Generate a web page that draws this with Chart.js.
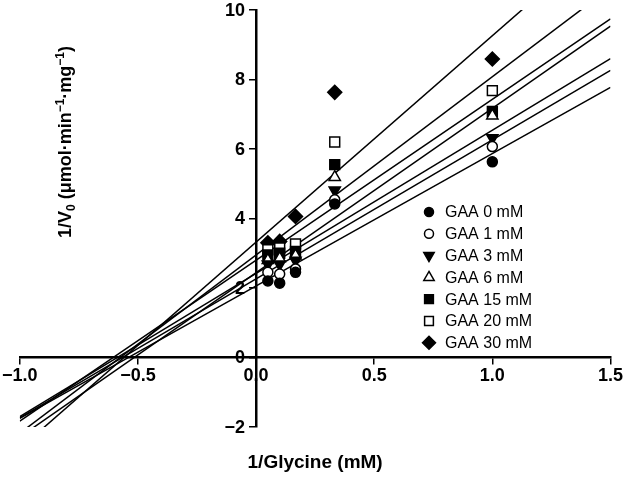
<!DOCTYPE html>
<html>
<head>
<meta charset="utf-8">
<script src="https://cdn.jsdelivr.net/npm/chart.js@4.4.1/dist/chart.umd.min.js"></script>
<style>
  html, body { margin: 0; padding: 0; background: #fff; }
  #wrap { width: 625px; height: 478px; }
</style>
</head>
<body>
<div id="wrap"><canvas id="myChart" width="625" height="478"></canvas></div>
<script>
'use strict';

//Data
var seriesNames = ['GAA 0 mM', 'GAA 1 mM', 'GAA 3 mM', 'GAA 6 mM', 'GAA 15 mM', 'GAA 20 mM', 'GAA 30 mM'];
var invGlycine = [0.05, 0.1, 0.167, 0.333, 1.0];
var gaa0 = [2.2, 2.14, 2.45, 4.42, 5.63];
var gaa1 = [2.45, 2.4, 2.55, 4.54, 6.07];
var gaa3 = [2.68, 2.68, 2.79, 4.81, 6.32];
var gaa6 = [2.8, 2.85, 2.93, 5.19, 6.96];
var gaa15 = [2.95, 3.0, 3.05, 5.55, 7.08];
var gaa20 = [3.1, 3.15, 3.27, 6.2, 7.68];
var gaa30 = [3.3, 3.34, 4.06, 7.63, 8.59];
var allSeries = [gaa0, gaa1, gaa3, gaa6, gaa15, gaa20, gaa30];

//fitted lines (intercept on 1/V0 axis, slope) - one per series
var fitIntercept = [2.06, 2.26, 2.42, 2.44, 2.80, 2.95, 3.32];
var fitSlope = [3.81, 4.00, 4.12, 4.73, 4.63, 5.13, 5.94];
var fitRange = [-1.0, 1.5];

//tick labels
var xTicks = [-1.0, -0.5, 0, 0.5, 1.0, 1.5];
var yTicks = [-2, 0, 2, 4, 6, 8, 10];
var xTitle = '1/Glycine (mM)';

//marker look for each series
var markerStyle = ['circle', 'circle', 'triangle', 'triangle', 'rect', 'rect', 'rectRot'];
var markerFilled = [true, false, true, false, true, false, true];
var markerRotation = [0, 0, 180, 0, 0, 0, 0];
var markerRadius = [5, 5, 6.5, 6.5, 7, 7, 7];
var legendRadius = [4.5, 4.5, 6, 6, 6.2, 6.2, 6.5];

var FONT = '"Liberation Sans", Arial, sans-serif';
Chart.defaults.font.family = FONT;
Chart.defaults.color = '#000';

function minusSign(text) {
  return String(text).replace('-', '\u2212');
}

//build datasets - points first so they sit on top of the lines
var datasets = [];
for (let i = 0; i < seriesNames.length; i++) {
  let pts = [];
  for (let j = 0; j < invGlycine.length; j++) {
    pts.push({ x: invGlycine[j], y: allSeries[i][j] });
  }
  datasets.push({
    label: seriesNames[i],
    data: pts,
    showLine: false,
    pointStyle: markerStyle[i],
    pointRotation: markerRotation[i],
    pointRadius: markerRadius[i],
    pointBackgroundColor: markerFilled[i] ? '#000' : '#fff',
    pointBorderColor: '#000',
    pointBorderWidth: 1.5,
    order: 0
  });
}
for (let i = 0; i < seriesNames.length; i++) {
  datasets.push({
    label: seriesNames[i] + ' fit',
    data: fitRange.map(function (x) { return { x: x, y: fitIntercept[i] + fitSlope[i] * x }; }),
    showLine: true,
    borderColor: '#000',
    borderWidth: 1.5,
    pointRadius: 0,
    fill: false,
    order: 1
  });
}

var tickFont = { family: FONT, size: 18, weight: 'bold' };

//y tick labels sit left of the centred y axis (drawn under the lines)
var yLabelPlugin = {
  id: 'yLabels',
  beforeDatasetsDraw: function (chart) {
    var ctx = chart.ctx;
    var xs = chart.scales.x;
    var ys = chart.scales.y;
    var xAxis = xs.getPixelForValue(0);
    ctx.save();
    ctx.fillStyle = '#000';
    ctx.font = 'bold ' + tickFont.size + 'px ' + FONT;
    ctx.textAlign = 'right';
    ctx.textBaseline = 'middle';
    yTicks.forEach(function (v) {
      ctx.fillText(minusSign(v), xAxis - 11, ys.getPixelForValue(v) + 1);
    });
    ctx.restore();
  }
};

//axis titles
var titlePlugin = {
  id: 'axisTitles',
  afterDraw: function (chart) {
    var ctx = chart.ctx;
    var area = chart.chartArea;
    ctx.save();
    ctx.fillStyle = '#000';
    ctx.font = 'bold 19px ' + FONT;
    ctx.textAlign = 'center';
    ctx.textBaseline = 'middle';
    ctx.fillText(xTitle, (area.left + area.right) / 2, area.bottom + 36);

    //y title with subscript / superscripts
    var parts = [
      { t: '1/V', k: 'n' }, { t: '0', k: 'sub' }, { t: ' (\u03bcmol\u00b7min', k: 'n' },
      { t: '\u22121', k: 'sup' }, { t: '\u00b7mg', k: 'n' }, { t: '\u22121', k: 'sup' }, { t: ')', k: 'n' }
    ];
    var bigFont = 'bold 18px ' + FONT;
    var smallFont = 'bold 12px ' + FONT;
    var total = 0;
    parts.forEach(function (p) {
      ctx.font = p.k === 'n' ? bigFont : smallFont;
      p.w = ctx.measureText(p.t).width;
      total += p.w;
    });
    ctx.translate(65, 142);
    ctx.rotate(-Math.PI / 2);
    ctx.textAlign = 'left';
    ctx.textBaseline = 'alphabetic';
    var x = -total / 2;
    parts.forEach(function (p) {
      ctx.font = p.k === 'n' ? bigFont : smallFont;
      var dy = p.k === 'sub' ? 4 : (p.k === 'sup' ? -7 : 0);
      ctx.fillText(p.t, x, 6 + dy);
      x += p.w;
    });
    ctx.restore();
  }
};

//legend inside the plot
var legendPlugin = {
  id: 'innerLegend',
  afterDraw: function (chart) {
    var ctx = chart.ctx;
    ctx.save();
    ctx.font = '16px ' + FONT;
    ctx.textAlign = 'left';
    ctx.textBaseline = 'middle';
    for (let i = 0; i < seriesNames.length; i++) {
      let y = 212 + i * 21.8;
      ctx.fillStyle = markerFilled[i] ? '#000' : '#fff';
      ctx.strokeStyle = '#000';
      ctx.lineWidth = 1.5;
      Chart.helpers.drawPoint(ctx, {
        pointStyle: markerStyle[i],
        rotation: markerRotation[i],
        radius: legendRadius[i],
        borderWidth: 1.5
      }, 429, y);
      ctx.fillStyle = '#000';
      ctx.fillText(seriesNames[i], 445, y + 1);
    }
    ctx.restore();
  }
};

var ctx = document.getElementById('myChart').getContext('2d');
//eslint-disable-next-line no-unused-vars
var chart = new Chart(ctx, {
  type: 'scatter',
  data: { datasets: datasets },
  options: {
    responsive: false,
    animation: false,
    devicePixelRatio: 1,
    layout: { padding: { left: 19, right: 14, top: 10, bottom: 51 } },
    plugins: {
      legend: { display: false },
      tooltip: { enabled: false }
    },
    scales: {
      x: {
        type: 'linear',
        min: -1.0,
        max: 1.5,
        position: { y: 0 },
        afterBuildTicks: function (axis) {
          axis.ticks = xTicks.map(function (v) { return { value: v }; });
        },
        afterFit: function (axis) { axis.height = 0; },
        grid: { drawOnChartArea: false, color: '#000', lineWidth: 1.5, tickLength: 6 },
        border: { color: '#000', width: 2.5 },
        ticks: {
          font: tickFont,
          color: '#000',
          padding: 2,
          maxRotation: 0,
          autoSkip: false,
          callback: function (v) { return minusSign(Number(v).toFixed(1)); }
        }
      },
      y: {
        type: 'linear',
        min: -2,
        max: 10,
        position: { x: 0 },
        afterBuildTicks: function (axis) {
          axis.ticks = yTicks.map(function (v) { return { value: v }; });
        },
        afterFit: function (axis) { axis.width = 0; },
        grid: { drawOnChartArea: false, color: '#000', lineWidth: 1.5, tickLength: 6 },
        border: { color: '#000', width: 2.5 },
        ticks: { display: false }
      }
    }
  },
  plugins: [yLabelPlugin, titlePlugin, legendPlugin]
});
</script>
</body>
</html>
